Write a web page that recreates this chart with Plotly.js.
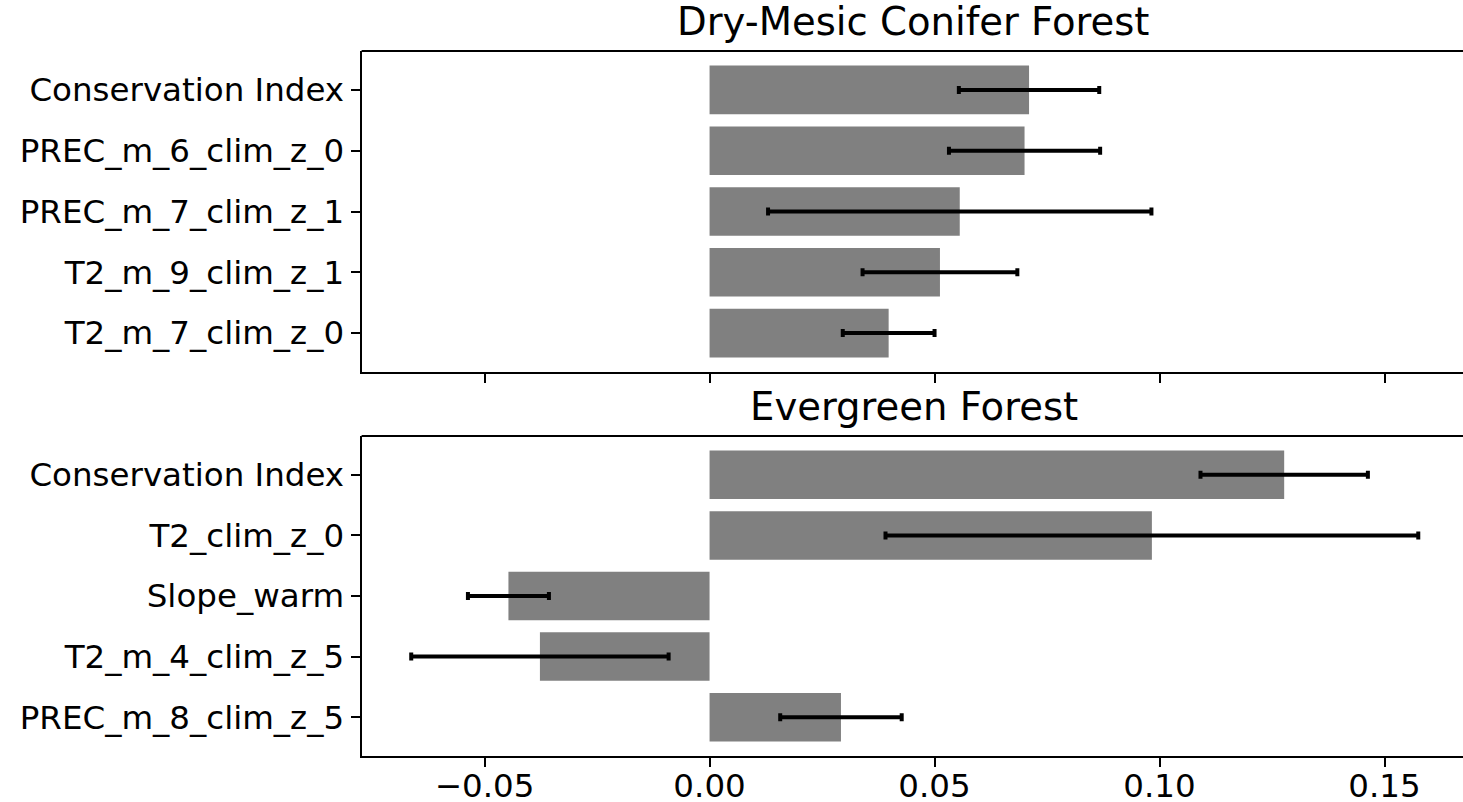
<!DOCTYPE html>
<html><head><meta charset="utf-8">
<script src="https://cdn.plot.ly/plotly-3.0.1.min.js"></script>
<style>html,body{margin:0;padding:0;background:#fff;overflow:hidden}</style>
</head><body><div id="chart" style="width:1463px;height:802px"></div>
<script>
const dryCategories = ['Conservation Index','PREC_m_6_clim_z_0','PREC_m_7_clim_z_1','T2_m_9_clim_z_1','T2_m_7_clim_z_0'];
const dryValues = [0.0710, 0.0700, 0.0556, 0.0512, 0.0398];
const dryErrors = [0.0156, 0.0168, 0.0426, 0.0172, 0.0102];
const evgCategories = ['Conservation Index','T2_clim_z_0','Slope_warm','T2_m_4_clim_z_5','PREC_m_8_clim_z_5'];
const evgValues = [0.1277, 0.0983, -0.0447, -0.0377, 0.0292];
const evgErrors = [0.0186, 0.0592, 0.0090, 0.0286, 0.0135];
const panelTitles = ['Dry-Mesic Conifer Forest','Evergreen Forest'];
const xTickVals = [-0.05, 0, 0.05, 0.10, 0.15];
const xTickText = ['\u22120.05','0.00','0.05','0.10','0.15'];

const FONT = 'DejaVu Sans, Liberation Sans, sans-serif';
const W = 1463, H = 802;
const xDomain = [361.6 / W, 1];
const xRange = [-0.07733, 0.16744];

function barTrace(cats, vals, errs, xa, ya) {
  return {
    type: 'bar', orientation: 'h', x: vals, y: cats, xaxis: xa, yaxis: ya,
    width: 0.8,
    marker: {color: '#808080', line: {width: 0}},
    error_x: {type: 'data', array: errs, visible: true, color: '#000000', thickness: 4, width: 4},
    hoverinfo: 'skip', showlegend: false
  };
}

const yCommon = {
  type: 'category', ticks: 'outside', ticklen: 9, tickwidth: 2, tickcolor: '#000',
  showline: true, linecolor: '#000', linewidth: 2, showgrid: false, zeroline: false,
  tickfont: {family: FONT, size: 32.5, color: '#000'}, range: [4.64, -0.64], autorange: false,
  ticklabelstandoff: 0, fixedrange: true
};
const xCommon = {
  range: xRange, autorange: false, domain: xDomain, tickvals: xTickVals, ticktext: xTickText,
  ticks: 'outside', ticklen: 9, tickwidth: 2, tickcolor: '#000',
  showline: true, linecolor: '#000', linewidth: 2, showgrid: false, zeroline: false,
  tickfont: {family: FONT, size: 32.5, color: '#000'}, fixedrange: true
};

const layout = {
  width: W, height: H, margin: {l: 0, r: 0, t: 0, b: 0},
  paper_bgcolor: '#fff', plot_bgcolor: '#fff',
  bargap: 0.2,
  xaxis: Object.assign({}, xCommon, {anchor: 'y', showticklabels: false}),
  yaxis: Object.assign({}, yCommon, {anchor: 'x', domain: [(H - 372) / H, (H - 51) / H], categoryorder: 'array', categoryarray: dryCategories}),
  xaxis2: Object.assign({}, xCommon, {anchor: 'y2', showticklabels: true, ticklabelstandoff: -9}),
  yaxis2: Object.assign({}, yCommon, {anchor: 'x2', domain: [(H - 756) / H, (H - 436) / H], categoryorder: 'array', categoryarray: evgCategories}),
  shapes: [
    {type: 'line', xref: 'x domain', yref: 'y domain', x0: 0, x1: 1, y0: 1, y1: 1, line: {color: '#000', width: 2}},
    {type: 'line', xref: 'x2 domain', yref: 'y2 domain', x0: 0, x1: 1, y0: 1, y1: 1, line: {color: '#000', width: 2}}
  ],
  annotations: [
    {text: panelTitles[0], xref: 'paper', yref: 'paper', x: 913.5 / W, y: (H - 46) / H, xanchor: 'center', yanchor: 'bottom', showarrow: false, font: {family: FONT, size: 38.6, color: '#000'}},
    {text: panelTitles[1], xref: 'paper', yref: 'paper', x: 913.5 / W, y: (H - 431) / H, xanchor: 'center', yanchor: 'bottom', showarrow: false, font: {family: FONT, size: 38.6, color: '#000'}}
  ]
};

Plotly.newPlot('chart', [
  barTrace(dryCategories, dryValues, dryErrors, 'x', 'y'),
  barTrace(evgCategories, evgValues, evgErrors, 'x2', 'y2')
], layout, {displayModeBar: false, staticPlot: true});
</script>
</body></html>
